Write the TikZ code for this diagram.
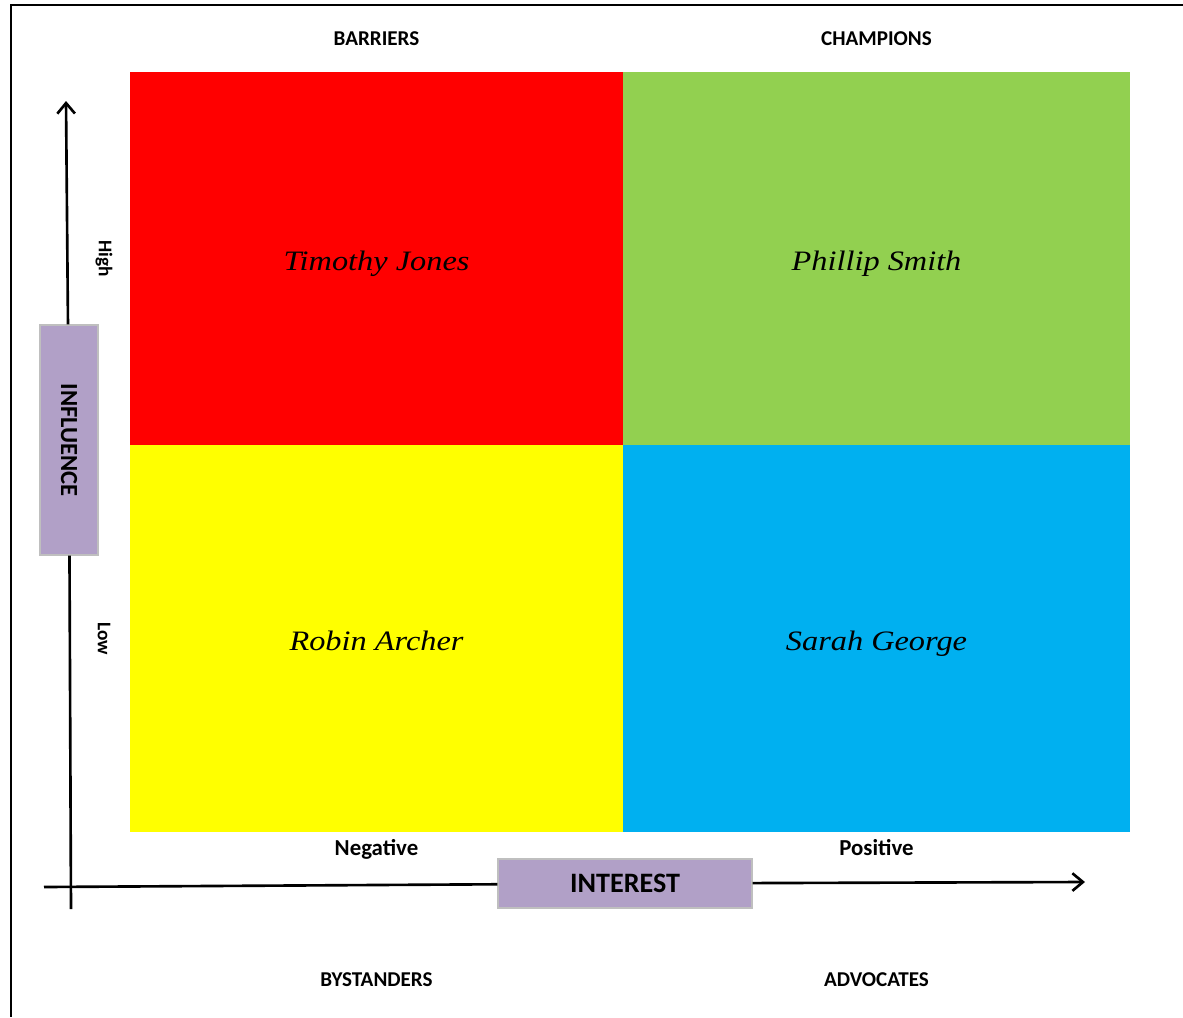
\documentclass[tikz,border=0pt]{standalone}
\usepackage{fontspec}
\setmainfont{Liberation Serif}
\setsansfont{Carlito}
\newfontfamily\namefont[FakeStretch=1.15]{Liberation Serif}
\usepackage{xcolor}
\usepackage{tikz}
\usetikzlibrary{positioning, arrows.meta}

\definecolor{barrierred}{HTML}{FF0000}
\definecolor{championgreen}{HTML}{92D050}
\definecolor{bystanderyellow}{HTML}{FFFF00}
\definecolor{advocateblue}{HTML}{00B0F0}
\definecolor{axislilac}{HTML}{B1A0C7}

\begin{document}
\begin{tikzpicture}[
    % Quadrant fill boxes
    quadbox/.style={
        rectangle,
        inner sep=0pt,
        outer sep=0pt,
        text height=15pt,
        text depth=1pt,
        align=center,
        font=\namefont\itshape\fontsize{16}{19}\selectfont
    },
    % Group names and axis ends
    grouplabel/.style={
        inner sep=0pt,
        font=\sffamily\bfseries\fontsize{12}{14}\selectfont
    },
    sidelabel/.style={
        rotate=-90,
        inner sep=0pt,
        font=\sffamily\bfseries\fontsize{11}{13}\selectfont
    },
    % Lilac boxes sitting on the axes
    axisbox/.style={
        rectangle,
        draw=black!25,
        line width=0.6pt,
        fill=axislilac,
        font=\sffamily\bfseries
    },
    axisline/.style={
        line width=1.5pt,
        black
    }
]
    \useasboundingbox (0,0) rectangle (23.66,-20.34);

    % Frame
    \draw[line width=1.2pt] (23.66,-0.1) -- (0.22,-0.1) -- (0.22,-20.34);

    % Quadrants
    \node[quadbox, fill=barrierred, minimum width=9.86cm, minimum height=7.46cm, anchor=north west] (barriers) at (2.6,-1.44) {Timothy Jones};
    \node[quadbox, fill=championgreen, minimum width=10.14cm, minimum height=7.46cm, right=0pt of barriers] (champions) {Phillip Smith};
    \node[quadbox, fill=bystanderyellow, minimum width=9.86cm, minimum height=7.74cm, below=0pt of barriers] (bystanders) {Robin Archer};
    \node[quadbox, fill=advocateblue, minimum width=10.14cm, minimum height=7.74cm, right=0pt of bystanders] (advocates) {Sarah George};

    % Group labels
    \node[grouplabel, above=0.52cm of barriers] (barrierstxt) {BARRIERS};
    \node[grouplabel, above=0.52cm of champions] (championstxt) {CHAMPIONS};
    \node[grouplabel, below=2.8cm of bystanders] (bystanderstxt) {BYSTANDERS};
    \node[grouplabel, below=2.8cm of advocates] (advocatestxt) {ADVOCATES};
    \node[grouplabel, below=0.15cm of bystanders, font=\sffamily\bfseries\fontsize{13}{15}\selectfont] (negative) {Negative};
    \node[grouplabel, below=0.15cm of advocates, font=\sffamily\bfseries\fontsize{13}{15}\selectfont] (positive) {Positive};

    \node[sidelabel] (high) at (2.08,-5.17) {High};
    \node[sidelabel] (low) at (2.08,-12.77) {Low};

    % Axis boxes
    \node[axisbox, rotate=-90, minimum width=4.6cm, minimum height=1.16cm, font=\sffamily\bfseries\fontsize{14}{16}\selectfont] (influence) at (1.38,-8.8) {INFLUENCE};
    \node[axisbox, minimum width=5.08cm, minimum height=0.98cm, font=\sffamily\bfseries\fontsize{16}{18}\selectfont] (interest) at (12.5,-17.67) {INTEREST};

    % Axes
    \coordinate (ybot) at (1.42,-18.18);
    \coordinate (ytop) at (1.32,-2.02);
    \coordinate (xleft) at (0.88,-17.74);
    \coordinate (xright) at (21.7,-17.64);

    \draw[axisline] (ybot) -- (influence);
    \draw[axisline, -{Straight Barb[length=6pt, width=10pt]}] (influence) -- (ytop);
    \draw[axisline] (xleft) -- (interest);
    \draw[axisline, -{Straight Barb[length=6pt, width=10pt]}] (interest) -- (xright);

\end{tikzpicture}
\end{document}
